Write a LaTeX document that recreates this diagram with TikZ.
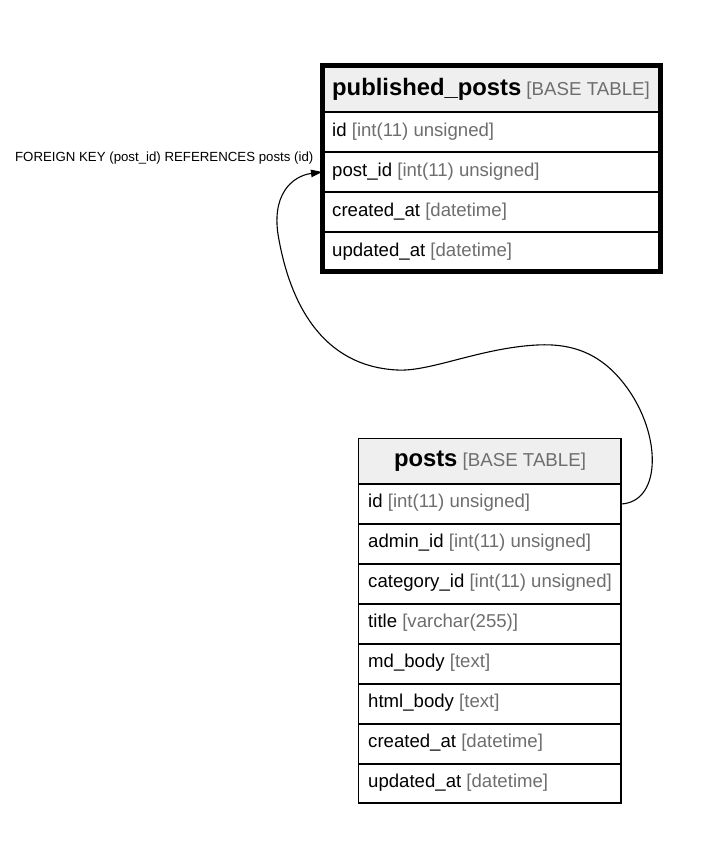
\documentclass[tikz,border=0pt]{standalone}
\usepackage{fontspec}
\setmainfont{Liberation Sans}
\usetikzlibrary{arrows.meta}
\definecolor{hdrfill}{HTML}{EFEFEF}
\definecolor{typegray}{HTML}{6E6E6E}
\newcommand{\ftype}[1]{{\color{typegray}#1}}
\newcommand{\tname}[1]{{\bfseries\fontsize{23.8}{28}\selectfont #1}}
\tikzset{
  rowbox/.style={draw=black, line width=1.3pt, inner sep=0pt, outer sep=0pt, anchor=north west, minimum height=40pt},
  hdrbox/.style={rowbox, fill=hdrfill},
  fieldtxt/.style={inner sep=0pt, anchor=base west, font=\fontsize{18.6}{22}\selectfont},
  hdrtxt/.style={inner sep=0pt, font=\fontsize{18.7}{22}\selectfont},
  fklabel/.style={inner sep=0pt, anchor=base east, font=\fontsize{13.25}{16}\selectfont},
  fk/.style={draw=black, line width=1.1pt, -{Triangle[length=11pt,width=7.5pt]}}
}
\begin{document}
\begin{tikzpicture}[x=1pt, y=-1pt]
\useasboundingbox (0,0) rectangle (725,867);
\fill[white] (0,0) rectangle (725,867);

% ---- published_posts ----
\node[hdrbox, minimum width=338.5pt, minimum height=46.5pt] (pp-head) at (322,65.5) {};
\node[rowbox, minimum width=338.5pt] (pp-id) at (322,112) {};
\node[rowbox, minimum width=338.5pt] (pp-postid) at (322,152) {};
\node[rowbox, minimum width=338.5pt] (pp-cre) at (322,192) {};
\node[rowbox, minimum width=338.5pt, minimum height=39.5pt] (pp-upd) at (322,232) {};
\draw[line width=5pt] (pp-head.north west) rectangle (pp-upd.south east);

\node[hdrtxt, anchor=base west] (pp-title) at (332,95) {\tname{published\_posts} \ftype{[BASE TABLE]}};
\node[fieldtxt] (pp-t1) at (332,136.5) {id \ftype{[int(11) unsigned]}};
\node[fieldtxt] (pp-t2) at (332,176.5) {post\_id \ftype{[int(11) unsigned]}};
\node[fieldtxt] (pp-t3) at (332,216.5) {created\_at \ftype{[datetime]}};
\node[fieldtxt] (pp-t4) at (332,256.5) {updated\_at \ftype{[datetime]}};

% ---- posts ----
\node[hdrbox, minimum width=262.5pt, minimum height=45.5pt] (p-head) at (358.5,438.5) {};
\node[rowbox, minimum width=262.5pt] (p-id) at (358.5,484) {};
\node[rowbox, minimum width=262.5pt] (p-admin) at (358.5,524) {};
\node[rowbox, minimum width=262.5pt] (p-cat) at (358.5,564) {};
\node[rowbox, minimum width=262.5pt] (p-title) at (358.5,604) {};
\node[rowbox, minimum width=262.5pt] (p-md) at (358.5,644) {};
\node[rowbox, minimum width=262.5pt] (p-html) at (358.5,684) {};
\node[rowbox, minimum width=262.5pt] (p-cre) at (358.5,724) {};
\node[rowbox, minimum width=262.5pt, minimum height=39pt] (p-upd) at (358.5,764) {};

\node[hdrtxt, anchor=base] (p-ttl) at (490,466) {\tname{posts} \ftype{[BASE TABLE]}};
\node[fieldtxt] (p-t1) at (368,507) {id \ftype{[int(11) unsigned]}};
\node[fieldtxt] (p-t2) at (368,547) {admin\_id \ftype{[int(11) unsigned]}};
\node[fieldtxt] (p-t3) at (368,587) {category\_id \ftype{[int(11) unsigned]}};
\node[fieldtxt] (p-t4) at (368,627) {title \ftype{[varchar(255)]}};
\node[fieldtxt] (p-t5) at (368,667) {md\_body \ftype{[text]}};
\node[fieldtxt] (p-t6) at (368,707) {html\_body \ftype{[text]}};
\node[fieldtxt] (p-t7) at (368,747) {created\_at \ftype{[datetime]}};
\node[fieldtxt] (p-t8) at (368,787) {updated\_at \ftype{[datetime]}};

% ---- foreign key ----
\node[fklabel] (fk-lbl) at (313.5,161.5) {FOREIGN KEY (post\_id) REFERENCES posts (id)};
\draw[fk] (p-id.east) .. controls (660,502) and (662,440) .. (630,392)
  .. controls (605,355) and (575,343) .. (537,345)
  .. controls (480,348) and (430,372) .. (397,370)
  .. controls (320,366) and (290,300) .. (279,240)
  .. controls (270,195) and (292,176) .. (pp-postid.west);
\end{tikzpicture}
\end{document}
